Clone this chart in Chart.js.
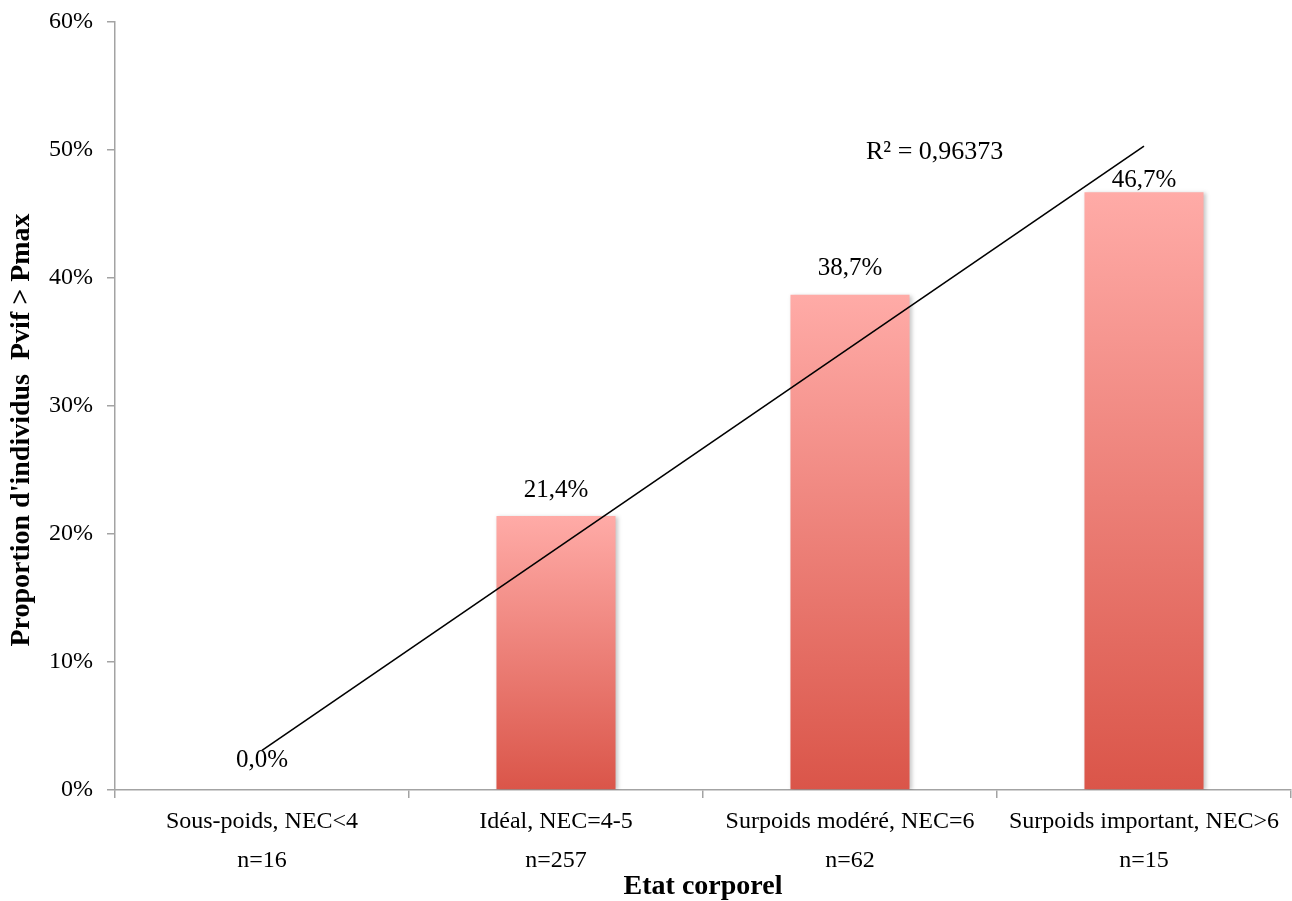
<!DOCTYPE html>
<html>
<head>
<meta charset="utf-8">
<script src="https://cdn.jsdelivr.net/npm/chart.js@4.4.1/dist/chart.umd.min.js"></script>
<style>
  body { margin: 0; background: #fff; }
  canvas { display: block; }
</style>
</head>
<body>
<canvas id="chart" width="1292" height="901"></canvas>
<script>
// Données
const categories = [
  ['Sous-poids, NEC<4', 'n=16'],
  ['Idéal, NEC=4-5', 'n=257'],
  ['Surpoids modéré, NEC=6', 'n=62'],
  ['Surpoids important, NEC>6', 'n=15']
];
const proportions = [0.0, 21.4, 38.7, 46.7];
const trendLine = [3.1, null, null, 50.3];
const r2Label = 'R² = 0,96373';
const yTicks = [0, 10, 20, 30, 40, 50, 60];

const FONT = "'Liberation Serif', 'Times New Roman', serif";
const AXIS_GREY = '#A3A3A3';

// dégradé par barre : rose clair en haut, rouge en bas
function barGradient(ctx) {
  const chart = ctx.chart;
  const y = chart.scales.y;
  if (!chart.chartArea || !y || ctx.raw == null) return '#E8706A';
  const top = y.getPixelForValue(ctx.raw);
  const bottom = y.getPixelForValue(0);
  if (bottom - top < 1) return '#DA5549';
  const g = chart.ctx.createLinearGradient(0, top, 0, bottom);
  g.addColorStop(0, '#FFABA7');
  g.addColorStop(1, '#DA5549');
  return g;
}

const labelsPlugin = {
  id: 'valueLabels',
  beforeDatasetDraw(chart, args) {
    if (args.index === 1) {
      const c = chart.ctx;
      c.save();
      c.shadowColor = 'rgba(0,0,0,0.22)';
      c.shadowBlur = 4;
      c.shadowOffsetX = 2;
      c.shadowOffsetY = 1;
    }
  },
  afterDatasetDraw(chart, args) {
    if (args.index === 1) chart.ctx.restore();
  },
  afterDatasetsDraw(chart) {
    const c = chart.ctx;
    const meta = chart.getDatasetMeta(1);
    const lift = [30, 26, 26, 12];
    c.save();
    c.fillStyle = '#000';
    c.font = '25px ' + FONT;
    c.textAlign = 'center';
    c.textBaseline = 'middle';
    meta.data.forEach((bar, i) => {
      const txt = proportions[i].toFixed(1).replace('.', ',') + '%';
      c.fillText(txt, bar.x, bar.y - lift[i]);
    });

    // R²
    c.font = '26px ' + FONT;
    c.textAlign = 'left';
    c.fillText(r2Label, chart.scales.x.getPixelForValue(2) + 16, chart.scales.y.getPixelForValue(49.8));

    // titre axe Y
    c.font = 'bold 28px ' + FONT;
    c.textAlign = 'center';
    c.translate(22, 430);
    c.rotate(-Math.PI / 2);
    c.fillText("Proportion d'individus  Pvif > Pmax", 0, 0);
    c.restore();
  }
};

new Chart(document.getElementById('chart').getContext('2d'), {
  type: 'bar',
  data: {
    labels: categories,
    datasets: [
      {
        type: 'line',
        label: 'Tendance',
        data: trendLine,
        borderColor: '#000',
        borderWidth: 1.6,
        pointRadius: 0,
        spanGaps: true,
        tension: 0,
        order: 0
      },
      {
        label: 'Proportion',
        data: proportions,
        backgroundColor: barGradient,
        borderWidth: 0,
        barPercentage: 0.405,
        categoryPercentage: 1,
        order: 1
      }
    ]
  },
  plugins: [labelsPlugin],
  options: {
    responsive: false,
    animation: false,
    layout: { padding: { top: 22, right: 1, bottom: 0, left: 0 } },
    plugins: {
      legend: { display: false },
      tooltip: { enabled: false }
    },
    scales: {
      x: {
        afterFit: (s) => { s.height = 111; s.paddingLeft = 0; s.paddingRight = 0; },
        grid: {
          offset: true,
          drawOnChartArea: false,
          drawTicks: true,
          tickLength: 8,
          color: AXIS_GREY,
          lineWidth: 1.5
        },
        border: { display: true, color: AXIS_GREY, width: 1.5 },
        ticks: {
          color: '#000',
          padding: 4,
          maxRotation: 0,
          autoSkip: false,
          font: { family: FONT, size: 24, lineHeight: 1.625 }
        },
        title: {
          display: true,
          text: 'Etat corporel',
          color: '#000',
          padding: 0,
          font: { family: FONT, size: 28, weight: 'bold', lineHeight: 1.0 }
        }
      },
      y: {
        min: yTicks[0],
        max: yTicks[yTicks.length - 1],
        afterFit: (s) => { s.width = 115; s.paddingTop = 0; s.paddingBottom = 0; },
        afterBuildTicks: (s) => { s.ticks = yTicks.map(v => ({ value: v })); },
        grid: {
          drawOnChartArea: false,
          drawTicks: true,
          tickLength: 8,
          color: AXIS_GREY,
          lineWidth: 1.5
        },
        border: { display: true, color: AXIS_GREY, width: 1.5 },
        ticks: {
          color: '#000',
          padding: 14,
          callback: (v) => v + '%',
          font: { family: FONT, size: 24 }
        }
      }
    }
  }
});
</script>
</body>
</html>
